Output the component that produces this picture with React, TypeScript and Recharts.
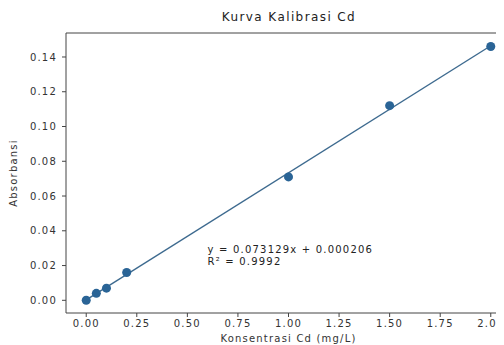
import {
  ReferenceDot,
  ReferenceLine,
  Scatter,
  ScatterChart,
  XAxis,
  YAxis,
} from "recharts";

const concentration = [0, 0.05, 0.1, 0.2, 1.0, 1.5, 2.0];
const absorbance = [0.0, 0.004, 0.007, 0.016, 0.071, 0.112, 0.146];

// regression line end points from the printed equation
const fitX = [0, 2.0];
const fitY = [0.000206, 0.146464];

const xTicks = [0, 0.25, 0.5, 0.75, 1.0, 1.25, 1.5, 1.75, 2.0];
const yTicks = [0, 0.02, 0.04, 0.06, 0.08, 0.1, 0.12, 0.14];

const equationText = "y = 0.073129x + 0.000206";
const r2Text = "R\u00b2 = 0.9992";

const FONT = "'DejaVu Sans', sans-serif";
const TEXT = "#333";
const AXIS = "#444";
const Y_MAX = 0.1538;

const points = concentration.map((x, i) => ({ x, y: absorbance[i] }));
const fitLine = fitX.map((x, i) => ({ x, y: fitY[i] }));

const tickStyle = {
  fontSize: 10,
  fill: TEXT,
  fontFamily: FONT,
  letterSpacing: 1.2,
};

function EquationLabel({ viewBox }: any) {
  const x = viewBox.x;
  const y = viewBox.y;
  return (
    <text
      fontFamily={FONT}
      fontSize={10}
      fill="#222"
      style={{ letterSpacing: 1.2 }}
    >
      <tspan x={x} y={y - 13}>
        {equationText}
      </tspan>
      <tspan x={x} y={y - 1}>
        {r2Text}
      </tspan>
    </text>
  );
}

function XLabel({ viewBox }: any) {
  return (
    <text
      x={viewBox.x + viewBox.width / 2}
      y={342}
      textAnchor="middle"
      {...tickStyle}
      style={{ letterSpacing: 1.2 }}
    >
      Konsentrasi Cd (mg/L)
    </text>
  );
}

function YLabel({ viewBox }: any) {
  const x = 17;
  const y = viewBox.y + viewBox.height / 2;
  return (
    <text
      x={x}
      y={y}
      textAnchor="middle"
      transform={`rotate(-90 ${x} ${y})`}
      {...tickStyle}
      style={{ letterSpacing: 1.2 }}
    >
      Absorbansi
    </text>
  );
}

export default function App() {
  return (
    <div
      style={{
        position: "relative",
        width: 504,
        height: 345,
        overflow: "hidden",
        margin: "-8px 0 0 -8px",
        background: "#fff",
      }}
    >
      <div
        style={{
          position: "absolute",
          left: 0,
          top: 10,
          width: 578,
          textAlign: "center",
          fontFamily: FONT,
          fontSize: 12,
          letterSpacing: 1.4,
          color: "#222",
        }}
      >
        Kurva Kalibrasi Cd
      </div>
      <ScatterChart
        width={540}
        height={345}
        margin={{ top: 33, right: 29, left: 0, bottom: 0 }}
      >
        <XAxis
          type="number"
          dataKey="x"
          domain={[-0.1, 2.1]}
          ticks={xTicks}
          allowDataOverflow
          tickFormatter={(v: number) => v.toFixed(2)}
          tick={tickStyle}
          tickSize={4}
          tickMargin={3}
          height={32}
          stroke={AXIS}
          label={(props: any) => <XLabel {...props} />}
        />
        <YAxis
          type="number"
          dataKey="y"
          domain={[-0.0073, Y_MAX]}
          ticks={yTicks}
          allowDataOverflow
          tickFormatter={(v: number) => v.toFixed(2)}
          tick={tickStyle}
          tickSize={4}
          tickMargin={5}
          width={66}
          stroke={AXIS}
          label={(props: any) => <YLabel {...props} />}
        />
        <ReferenceLine y={Y_MAX} stroke={AXIS} strokeWidth={1} />
        <ReferenceLine x={2.1} stroke={AXIS} strokeWidth={1} />
        <Scatter
          data={fitLine}
          line={{ stroke: "#3d6a8f", strokeWidth: 1.4 }}
          shape={() => <g />}
          isAnimationActive={false}
        />
        <Scatter
          data={points}
          fill="#2a6496"
          shape="circle"
          isAnimationActive={false}
        />
        <ReferenceDot
          x={0.6}
          y={0.02}
          r={0}
          fill="none"
          stroke="none"
          label={(props: any) => <EquationLabel {...props} />}
        />
      </ScatterChart>
    </div>
  );
}
